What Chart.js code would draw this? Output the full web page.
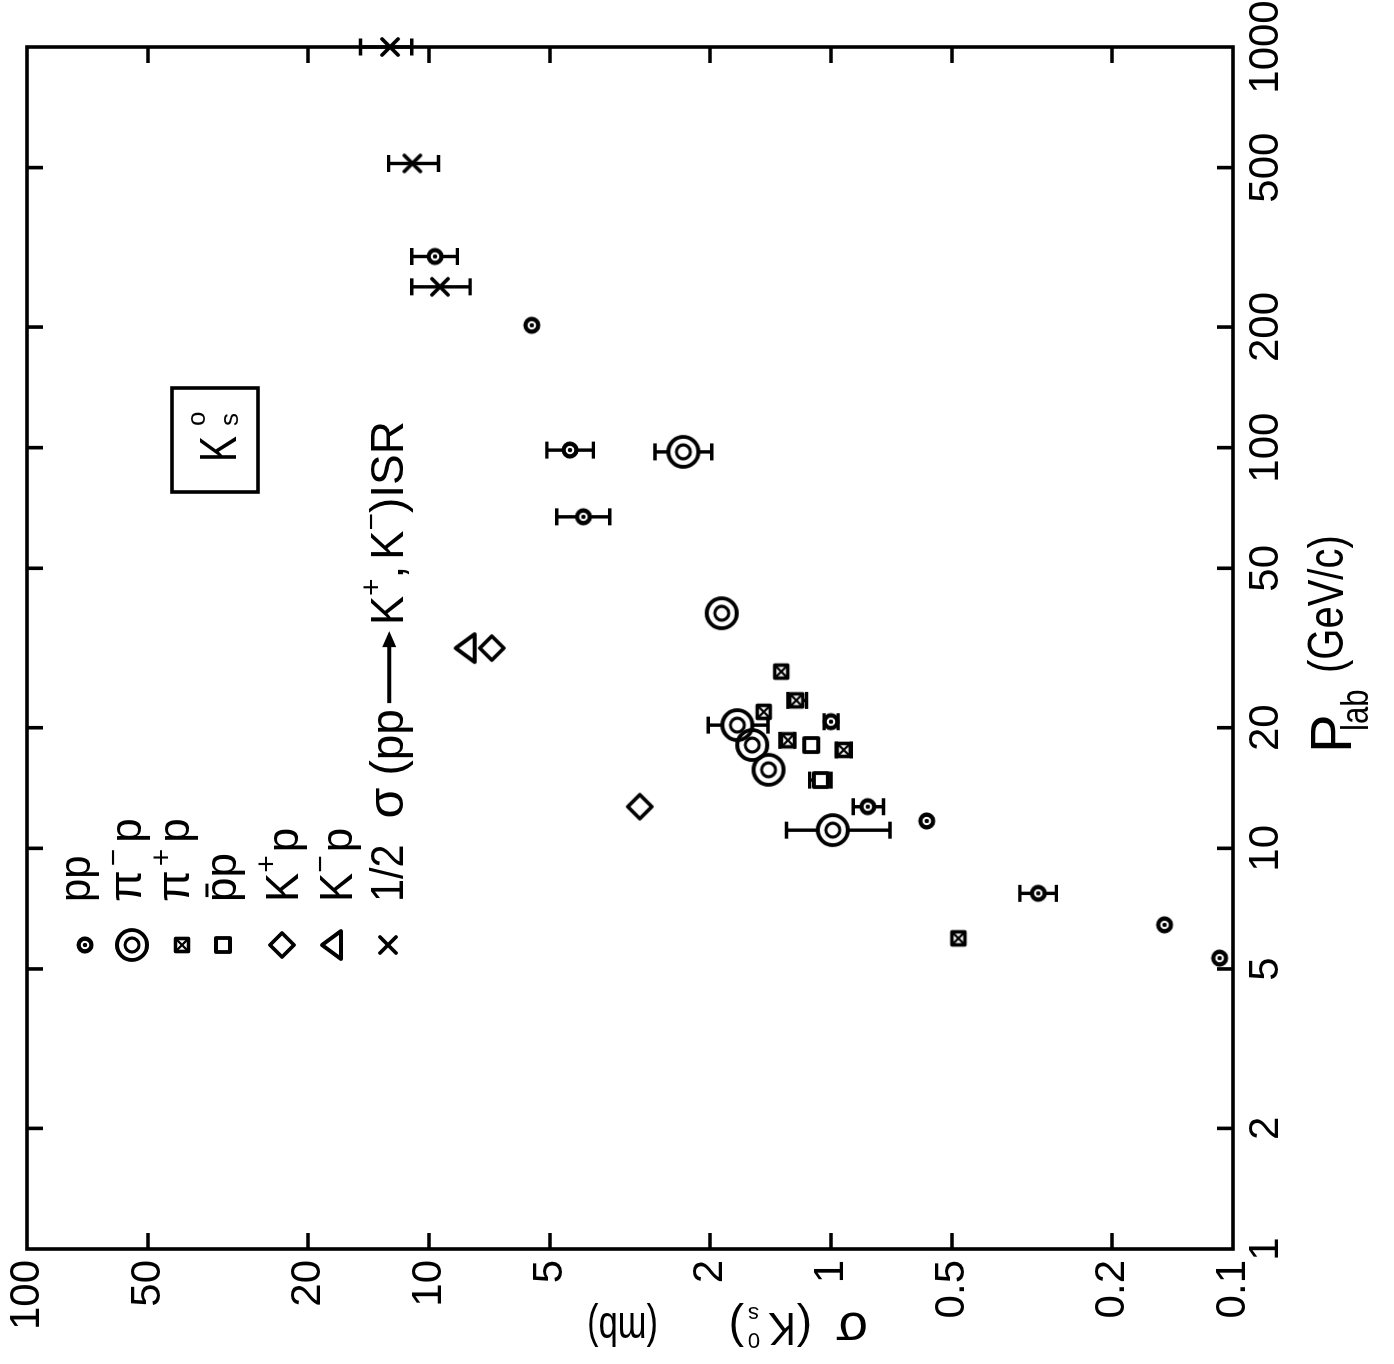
<!DOCTYPE html>
<html>
<head>
<meta charset="utf-8">
<title>K0s inclusive cross section vs P_lab</title>
<script src="https://cdn.jsdelivr.net/npm/chart.js@4.4.1/dist/chart.umd.min.js"></script>
<style>
  html, body { margin:0; padding:0; background:#fff; width:1394px; height:1364px; overflow:hidden; }
  #rot { position:absolute; left:0; top:0; width:1364px; height:1394px; transform-origin:0 0;
         transform:translateY(1364px) rotate(-90deg); background:#fff; }
  canvas { display:block; }
</style>
</head>
<body>
<div id="rot"><canvas id="chart" width="1364" height="1394" style="width:1364px;height:1394px"></canvas></div>
<script>
// ---------------- data (x = P_lab in GeV/c, y = sigma(K0s) in mb) ----------------
const pLabTicks  = [1, 2, 5, 10, 20, 50, 100, 200, 500, 1000];
const sigmaTicks = [0.1, 0.2, 0.5, 1, 2, 5, 10, 20, 50, 100];

const ppP     = [5.32, 6.44, 7.72, 11.7, 12.7, 20.7, 67.2, 98.6, 202, 300];
const ppSigma = [0.108, 0.148, 0.305, 0.578, 0.81, 1.0, 4.13, 4.46, 5.55, 9.66];
const ppLo    = [null, null, 0.275, null, 0.74, 0.96, 3.55, 3.90, null, 8.5];
const ppHi    = [null, null, 0.339, null, 0.88, 1.04, 4.81, 5.09, null, 11.04];

const pimP     = [11.1, 15.7, 18.1, 20.3, 38.6, 97.6];
const pimSigma = [0.99, 1.43, 1.57, 1.71, 1.87, 2.33];
const pimLo    = [0.713, null, null, 1.435, null, 1.98];
const pimHi    = [1.29, null, null, 2.02, null, 2.74];

const pipP     = [5.96, 17.6, 18.6, 21.9, 23.4, 27.6];
const pipSigma = [0.482, 0.93, 1.28, 1.47, 1.22, 1.33];
const pipLo    = [null, 0.89, 1.23, null, 1.15, null];
const pipHi    = [null, 0.97, 1.34, null, 1.28, null];

const pbarP     = [14.8, 18.1];
const pbarSigma = [1.06, 1.12];
const pbarLo    = [1.0, null];
const pbarHi    = [1.13, null];

const kpP     = [12.7, 31.6];
const kpSigma = [2.99, 6.98];

const kmP     = [31.6];
const kmSigma = [8.06];

const isrP     = [252, 512, 1000];
const isrSigma = [9.39, 11.0, 12.5];
const isrLo    = [7.9, 9.47, 11.04];
const isrHi    = [11.04, 12.6, 14.8];

// ---------------- marker glyphs ----------------
const SYM = 40;
function sym(fn) {
  const c = document.createElement('canvas');
  c.width = c.height = SYM;
  const g = c.getContext('2d');
  g.translate(SYM / 2, SYM / 2);
  g.strokeStyle = '#000'; g.fillStyle = '#000';
  g.lineJoin = 'round'; g.lineCap = 'round';
  fn(g);
  return c;
}
const symPP = sym(g => { g.lineWidth = 4.4; g.beginPath(); g.arc(0, 0, 6.4, 0, 2 * Math.PI); g.stroke();
  g.beginPath(); g.arc(0, 0, 2.2, 0, 2 * Math.PI); g.fill(); });
const symPim = sym(g => { g.lineWidth = 3.8; g.beginPath(); g.arc(0, 0, 15, 0, 2 * Math.PI); g.stroke();
  g.lineWidth = 3.2; g.beginPath(); g.arc(0, 0, 7, 0, 2 * Math.PI); g.stroke(); });
const symPip = sym(g => { g.lineWidth = 3.6; g.strokeRect(-6.5, -6.5, 13, 13);
  g.lineWidth = 2.4; g.beginPath(); g.moveTo(-5, -5); g.lineTo(5, 5); g.moveTo(5, -5); g.lineTo(-5, 5); g.stroke(); });
const symPbar = sym(g => { g.lineWidth = 3.8; g.strokeRect(-7, -7, 14, 14); });
const symKp = sym(g => { g.lineWidth = 3.8; g.beginPath(); g.moveTo(0, -12); g.lineTo(12, 0); g.lineTo(0, 12); g.lineTo(-12, 0); g.closePath(); g.stroke(); });
const symKm = sym(g => { g.lineWidth = 3.8; g.beginPath(); g.moveTo(0, -11); g.lineTo(14, 8); g.lineTo(-14, 8); g.closePath(); g.stroke(); });
const symISR = sym(g => { g.lineWidth = 3.8; g.beginPath(); g.moveTo(-8, -8); g.lineTo(8, 8); g.moveTo(8, -8); g.lineTo(-8, 8); g.stroke(); });

function pts(xs, ys) { return xs.map((x, i) => ({ x: x, y: ys[i] })); }
function ds(label, xs, ys, style, lo, hi, gap) {
  return { label, data: pts(xs, ys), pointStyle: style, pointRadius: 10, showLine: false, clip: false,
           errLo: lo || null, errHi: hi || null, gap: gap || 0 };
}

// ---------------- text helpers ----------------
const FONT = '"Liberation Sans", "DejaVu Sans", sans-serif';
function drawSegs(ctx, x, y, segs) {
  let cx = x;
  for (const s of segs) {
    ctx.save();
    const px = (s.at !== undefined) ? x + s.at : cx;
    if (s.arrow) {
      // long arrow drawn as line + filled head
      const ay = y - s.size * 0.3, L = s.arrow;
      ctx.lineWidth = 4; ctx.lineCap = 'butt';
      ctx.beginPath(); ctx.moveTo(px, ay); ctx.lineTo(px + L - 12, ay); ctx.stroke();
      ctx.beginPath(); ctx.moveTo(px + L, ay); ctx.lineTo(px + L - 16, ay - 7); ctx.lineTo(px + L - 16, ay + 7); ctx.closePath(); ctx.fill();
      ctx.restore();
      cx = px + L + (s.gap || 0);
      continue;
    }
    ctx.font = s.size + 'px ' + FONT;
    ctx.textBaseline = 'alphabetic'; ctx.textAlign = 'left';
    const sx = s.sx || 1;
    ctx.translate(px, y + (s.dy || 0));
    ctx.scale(sx, 1);
    ctx.fillText(s.t, 0, 0);
    const w = ctx.measureText(s.t).width;
    if (s.bar) {
      ctx.lineWidth = 3; ctx.beginPath();
      ctx.moveTo(w * 0.2, -s.size * 0.66); ctx.lineTo(w * 0.75, -s.size * 0.66); ctx.stroke();
    }
    ctx.restore();
    cx = px + w * sx + (s.gap || 0);
  }
}

// ---------------- plugins ----------------
const errorBars = {
  id: 'errorBars',
  beforeDatasetsDraw(chart) {
    const ctx = chart.ctx, y = chart.scales.y;
    ctx.save(); ctx.strokeStyle = '#000'; ctx.lineWidth = 3.4; ctx.lineCap = 'butt';
    chart.data.datasets.forEach((d, di) => {
      if (!d.errLo) return;
      chart.getDatasetMeta(di).data.forEach((pt, i) => {
        const lo = d.errLo[i], hi = d.errHi[i];
        if (lo == null || hi == null) return;
        const yl = y.getPixelForValue(lo), yh = y.getPixelForValue(hi), g = d.gap;
        ctx.beginPath();
        if (yl > pt.y + g) { ctx.moveTo(pt.x, pt.y + g); ctx.lineTo(pt.x, yl); }
        if (yh < pt.y - g) { ctx.moveTo(pt.x, pt.y - g); ctx.lineTo(pt.x, yh); }
        ctx.moveTo(pt.x - 8.5, yl); ctx.lineTo(pt.x + 8.5, yl);
        ctx.moveTo(pt.x - 8.5, yh); ctx.lineTo(pt.x + 8.5, yh);
        ctx.stroke();
      });
    });
    ctx.restore();
  }
};

const frame = {
  id: 'frame',
  afterDatasetsDraw(chart) {
    const ctx = chart.ctx, a = chart.chartArea, x = chart.scales.x, y = chart.scales.y;
    ctx.save(); ctx.strokeStyle = '#000'; ctx.lineWidth = 3.6;
    ctx.strokeRect(a.left, a.top, a.right - a.left, a.bottom - a.top);
    const L = 16;
    ctx.beginPath();
    pLabTicks.forEach(v => {
      const px = x.getPixelForValue(v);
      if (px <= a.left + 1 || px >= a.right - 1) return;
      ctx.moveTo(px, a.bottom); ctx.lineTo(px, a.bottom - L);
      ctx.moveTo(px, a.top); ctx.lineTo(px, a.top + L);
    });
    sigmaTicks.forEach(v => {
      const py = y.getPixelForValue(v);
      if (py <= a.top + 1 || py >= a.bottom - 1) return;
      ctx.moveTo(a.left, py); ctx.lineTo(a.left + L, py);
      ctx.moveTo(a.right, py); ctx.lineTo(a.right - L, py);
    });
    ctx.stroke(); ctx.restore();
  }
};

const annotations = {
  id: 'annotations',
  afterDraw(chart) {
    const ctx = chart.ctx;
    ctx.save(); ctx.fillStyle = '#000'; ctx.strokeStyle = '#000';

    // x-axis title: P_lab (GeV/c)
    drawSegs(ctx, 611, 1351, [
      { t: 'P', size: 58, at: 0 },
      { t: 'lab', size: 38, at: 22, dy: 17, sx: 0.82 },
      { t: '(GeV/c)', size: 50, at: 80, dy: -8, sx: 0.8 }
    ]);

    // y-axis title: sigma (K0s) (mb), rotated
    ctx.save();
    ctx.translate(51, 868); ctx.rotate(-Math.PI / 2);
    drawSegs(ctx, 0, 0, [
      { t: 'σ', size: 52, at: 0 },
      { t: '(', size: 46, at: 56 },
      { t: 'K', size: 46, at: 72, sx: 0.9 },
      { t: '0', size: 22, at: 108, dy: -20 },
      { t: 's', size: 22, at: 109, dy: 6 },
      { t: ')', size: 46, at: 124 },
      { t: '(mb)', size: 46, at: 210, sx: 0.75 }
    ]);
    ctx.restore();

    // legend
    const lx = 419, tx = 462;
    const rows = [
      { s: symPP,   y: 85,  b: 90,  segs: [{ t: 'pp', size: 44, sx: 0.95 }] },
      { s: symPim,  y: 132, b: 141, segs: [{ t: 'π', size: 46, gap: 4 }, { t: '−', size: 30, dy: -18, gap: 6 }, { t: 'p', size: 44 }] },
      { s: symPip,  y: 182, b: 189, segs: [{ t: 'π', size: 46, gap: 4 }, { t: '+', size: 30, dy: -18, gap: 6 }, { t: 'p', size: 44 }] },
      { s: symPbar, y: 223, b: 236, segs: [{ t: 'p', size: 44, bar: true }, { t: 'p', size: 44 }] },
      { s: symKp,   y: 282, b: 298, segs: [{ t: 'K', size: 46, sx: 0.95 }, { t: '+', size: 30, dy: -22, gap: 3 }, { t: 'p', size: 44 }] },
      { s: symKm,   y: 333, b: 352, segs: [{ t: 'K', size: 46, sx: 0.95 }, { t: '−', size: 30, dy: -22, gap: 3 }, { t: 'p', size: 44 }] },
      { s: symISR,  y: 388, b: 403, segs: [
          { t: '1/2', size: 46, sx: 0.9, gap: 26 }, { t: 'σ', size: 50, gap: 12 }, { t: '(pp', size: 46, gap: 6 },
          { arrow: 72, size: 46, gap: 6 }, { t: 'K', size: 46, sx: 0.95 }, { t: '+', size: 30, dy: -22 },
          { t: ',', size: 46, gap: 6 }, { t: 'K', size: 46, sx: 0.95 }, { t: '−', size: 30, dy: -22 },
          { t: ')ISR', size: 46 } ] }
    ];
    rows.forEach(r => {
      ctx.drawImage(r.s, lx - SYM / 2, r.y - SYM / 2);
      drawSegs(ctx, tx, r.b, r.segs);
    });

    // K0s box
    ctx.lineWidth = 3.6;
    ctx.strokeRect(872, 172, 104, 86);
    drawSegs(ctx, 902, 236, [{ t: 'K', size: 52, sx: 0.75 }]);
    drawSegs(ctx, 938, 205, [{ t: 'o', size: 26 }]);
    drawSegs(ctx, 938, 238, [{ t: 's', size: 26 }]);

    ctx.restore();
  }
};

// ---------------- chart ----------------
const tickFont = { family: FONT, size: 42 };
new Chart(document.getElementById('chart'), {
  type: 'scatter',
  data: {
    datasets: [
      ds('pp', ppP, ppSigma, symPP, ppLo, ppHi, 7),
      ds('π−p', pimP, pimSigma, symPim, pimLo, pimHi, 15),
      ds('π+p', pipP, pipSigma, symPip, pipLo, pipHi, 7),
      ds('p̄p', pbarP, pbarSigma, symPbar, pbarLo, pbarHi, 8),
      ds('K+p', kpP, kpSigma, symKp),
      ds('K−p', kmP, kmSigma, symKm),
      ds('1/2 σ(pp→K+,K−) ISR', isrP, isrSigma, symISR, isrLo, isrHi, 0)
    ]
  },
  options: {
    responsive: false,
    devicePixelRatio: 1,
    animation: false,
    events: [],
    layout: { padding: { top: 27, right: 47, left: 0, bottom: 0 } },
    plugins: { legend: { display: false }, tooltip: { enabled: false } },
    scales: {
      x: {
        type: 'logarithmic', min: 1, max: 1000, position: 'bottom',
        grid: { display: false, drawTicks: false }, border: { display: false },
        afterBuildTicks: s => { s.ticks = pLabTicks.map(v => ({ value: v })); },
        afterFit: s => { s.height = 161; s.paddingLeft = 0; s.paddingRight = 0; },
        ticks: { color: '#000', font: tickFont, padding: 8, maxRotation: 0, autoSkip: false,
                 callback: v => String(v) }
      },
      y: {
        type: 'logarithmic', min: 0.1, max: 100, position: 'left',
        grid: { display: false, drawTicks: false }, border: { display: false },
        afterBuildTicks: s => { s.ticks = sigmaTicks.map(v => ({ value: v })); },
        afterFit: s => { s.width = 115; s.paddingTop = 0; s.paddingBottom = 0; },
        ticks: { color: '#000', font: tickFont, padding: 11, autoSkip: false,
                 callback: v => String(v) }
      }
    }
  },
  plugins: [errorBars, frame, annotations]
});
</script>
</body>
</html>
